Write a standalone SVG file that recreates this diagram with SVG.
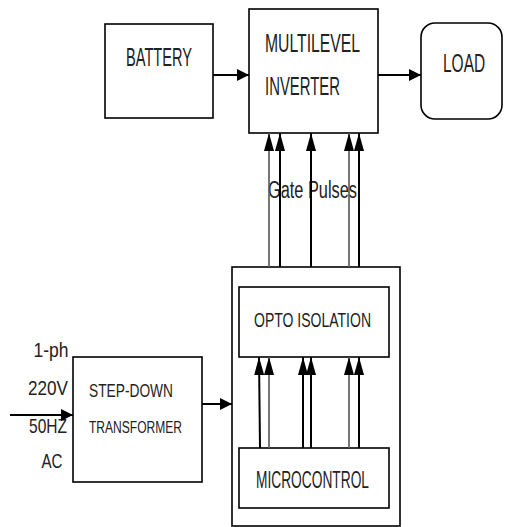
<svg xmlns="http://www.w3.org/2000/svg" width="506" height="527" viewBox="0 0 506 527">
<defs>
<marker id="ah" viewBox="0 0 10 10" refX="10" refY="5" markerWidth="12" markerHeight="12" markerUnits="userSpaceOnUse" orient="auto">
<path d="M0,0 L10,5 L0,10 Z" fill="#000"/>
</marker>
<marker id="av" viewBox="0 0 18 10" refX="18" refY="5" markerWidth="18" markerHeight="11" markerUnits="userSpaceOnUse" orient="auto">
<path d="M0,0 L18,5 L0,10 Z" fill="#000"/>
</marker>
</defs>
<style>
.box{fill:#fff;stroke:#000;stroke-width:1.6}
.t{font-family:"Liberation Sans",Arial,sans-serif;fill:#222}
.c{stroke:#000;stroke-width:2;fill:none}
.g{stroke:#555;stroke-width:1.6;fill:none}
</style>
<rect width="506" height="527" fill="#fff"/>
<g id="battery">
<rect class="box" x="105" y="24" width="108" height="94"/>
<text class="t" x="126" y="66" font-size="25" textLength="66" lengthAdjust="spacingAndGlyphs">BATTERY</text>
</g>
<g id="inverter">
<rect class="box" x="249" y="9" width="129" height="124"/>
<text class="t" x="265" y="52" font-size="25" textLength="95" lengthAdjust="spacingAndGlyphs">MULTILEVEL</text>
<text class="t" x="265" y="95" font-size="25" textLength="75" lengthAdjust="spacingAndGlyphs">INVERTER</text>
</g>
<g id="load">
<rect class="box" x="421" y="23" width="81" height="96" rx="14"/>
<text class="t" transform="matrix(0.62 0 0 1 443 72)" x="0" y="0" font-size="25">LOAD</text>
</g>
<g id="input-label">
<text class="t" x="51" y="357" font-size="21" text-anchor="middle" textLength="35" lengthAdjust="spacingAndGlyphs">1-ph</text>
<text class="t" x="48" y="395" font-size="21" text-anchor="middle" textLength="40" lengthAdjust="spacingAndGlyphs">220V</text>
<text class="t" x="48" y="433" font-size="21" text-anchor="middle" textLength="38" lengthAdjust="spacingAndGlyphs">50HZ</text>
<text class="t" x="52" y="468" font-size="21" text-anchor="middle" textLength="21" lengthAdjust="spacingAndGlyphs">AC</text>
</g>
<g id="transformer">
<rect class="box" x="73" y="357" width="129" height="125"/>
<text class="t" x="89" y="397" font-size="18" textLength="84" lengthAdjust="spacingAndGlyphs">STEP-DOWN</text>
<text class="t" x="89" y="433" font-size="16" textLength="93" lengthAdjust="spacingAndGlyphs">TRANSFORMER</text>
</g>
<g id="controller">
<rect class="box" x="232" y="267" width="168" height="259"/>
</g>
<g id="opto">
<rect class="box" x="239" y="287" width="150" height="70"/>
<text class="t" x="254" y="327" font-size="21" textLength="117" lengthAdjust="spacingAndGlyphs">OPTO ISOLATION</text>
</g>
<g id="micro">
<rect class="box" x="239" y="448" width="150" height="60"/>
<text class="t" x="256" y="488" font-size="23" textLength="113" lengthAdjust="spacingAndGlyphs">MICROCONTROL</text>
</g>
<g id="gate-label">
<text class="t" x="268" y="198" font-size="23" textLength="89" lengthAdjust="spacingAndGlyphs">Gate Pulses</text>
</g>
<g id="connectors">
<line class="c" x1="213" y1="75" x2="249" y2="75" marker-end="url(#ah)"/>
<line class="c" x1="378" y1="75" x2="421" y2="75" marker-end="url(#ah)"/>
<line class="c" x1="10" y1="415" x2="73" y2="415" marker-end="url(#ah)"/>
<line class="c" x1="202" y1="404" x2="232" y2="404" marker-end="url(#ah)"/>
<line class="g" x1="269" y1="267" x2="269" y2="133" marker-end="url(#av)"/>
<line class="c" x1="280" y1="267" x2="280" y2="133" marker-end="url(#av)"/>
<line class="c" x1="311" y1="267" x2="311" y2="133" marker-end="url(#av)"/>
<line class="g" x1="349" y1="267" x2="349" y2="133" marker-end="url(#av)"/>
<line class="c" x1="359" y1="267" x2="359" y2="133" marker-end="url(#av)"/>
<line class="c" x1="260" y1="448" x2="259" y2="357" marker-end="url(#av)"/>
<line class="g" x1="269" y1="448" x2="269" y2="357" marker-end="url(#av)"/>
<line class="c" x1="303" y1="448" x2="303" y2="357" marker-end="url(#av)"/>
<line class="c" x1="311" y1="448" x2="311" y2="357" marker-end="url(#av)"/>
<line class="g" x1="349" y1="448" x2="349" y2="357" marker-end="url(#av)"/>
<line class="c" x1="359" y1="448" x2="359" y2="357" marker-end="url(#av)"/>
</g>
</svg>
